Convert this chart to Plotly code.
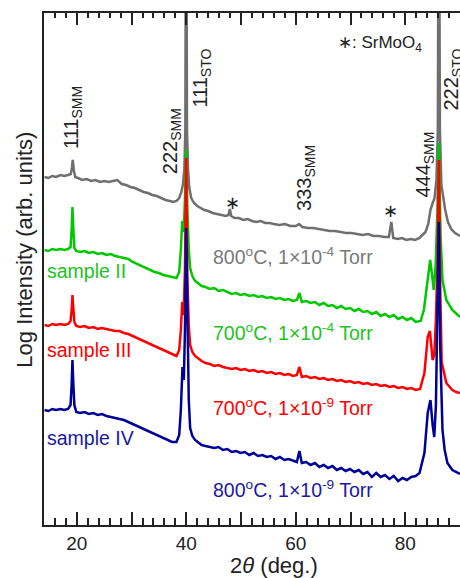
import plotly.graph_objects as go

# 2theta (deg.) and log intensity (arb. units, offset stacked)
gray_x = [14.1,14.8,15.5,16.2,17.0,17.7,18.4,18.9,19.1,19.25,19.45,19.7,20.2,21.0,21.8,22.6,23.4,24.2,25.0,25.8,26.6,27.4,28.2,29.0,29.8,30.6,31.4,32.2,33.0,33.8,34.6,35.4,36.2,37.0,37.6,38.2,38.7,39.1,39.4,39.65,39.82,39.97,40.12,40.3,40.55,40.9,41.4,42.0,42.6,43.3,44.0,44.8,45.6,46.4,47.2,47.7,47.95,48.2,48.8,49.6,50.4,51.2,52.0,52.8,53.6,54.4,55.2,56.0,57.0,58.0,59.0,60.0,60.6,61.2,62.2,63.2,64.2,65.2,66.2,67.2,68.2,69.2,70.2,71.2,72.2,73.2,74.2,75.2,76.2,77.0,77.45,77.8,78.6,79.4,80.2,81.0,81.8,82.6,83.2,83.7,84.2,84.6,84.95,85.35,85.7,85.95,86.13,86.33,86.6,86.9,87.3,87.8,88.4,89.1,90.0]
gray_y = [3.48,3.47,3.49,3.48,3.50,3.49,3.50,3.51,3.57,3.65,3.55,3.48,3.47,3.45,3.46,3.44,3.45,3.43,3.44,3.43,3.44,3.45,3.41,3.40,3.38,3.37,3.35,3.33,3.32,3.30,3.29,3.27,3.25,3.24,3.23,3.24,3.27,3.33,3.41,3.57,3.95,7.2,3.95,3.57,3.37,3.27,3.22,3.19,3.17,3.15,3.14,3.12,3.11,3.10,3.09,3.10,3.16,3.09,3.07,3.07,3.05,3.06,3.04,3.03,3.04,3.02,3.02,3.01,3.00,3.01,2.99,2.99,3.01,2.98,2.97,2.97,2.96,2.95,2.94,2.94,2.93,2.92,2.92,2.91,2.90,2.91,2.89,2.89,2.88,2.88,3.03,2.87,2.86,2.87,2.85,2.86,2.85,2.87,2.90,2.93,3.01,3.15,3.21,3.27,3.45,3.95,7.2,3.95,3.40,3.27,3.15,3.03,2.96,2.92,2.89]

green_x = [14.1,14.8,15.5,16.2,17.0,17.7,18.4,18.85,19.05,19.2,19.35,19.55,19.9,20.6,21.4,22.2,23.0,23.8,24.6,25.4,26.2,27.0,27.8,28.6,29.4,30.2,31.0,31.8,32.6,33.4,34.2,35.0,35.8,36.6,37.4,38.2,38.7,39.0,39.25,39.5,39.75,39.97,40.2,40.45,40.7,41.1,41.6,42.2,42.8,43.5,44.3,45.1,45.9,46.7,47.5,48.3,49.1,49.9,50.7,51.5,52.3,53.1,53.9,54.7,55.5,56.3,57.1,57.9,58.7,59.5,60.2,60.66,61.1,61.9,62.7,63.5,64.3,65.1,65.9,66.7,67.5,68.3,69.1,69.9,70.7,71.5,72.3,73.1,73.9,74.7,75.5,76.3,77.1,77.9,78.7,79.5,80.3,81.1,81.9,82.8,83.4,84.0,84.55,84.9,85.2,85.55,85.85,86.13,86.45,86.8,87.5,88.6,89.3,90.0]
green_y = [2.75,2.74,2.76,2.75,2.76,2.75,2.76,2.78,2.95,3.18,2.97,2.77,2.74,2.73,2.74,2.72,2.73,2.71,2.72,2.70,2.71,2.69,2.68,2.67,2.66,2.63,2.61,2.59,2.57,2.55,2.53,2.52,2.50,2.49,2.48,2.47,2.53,2.75,3.04,2.93,3.25,3.75,3.15,2.75,2.57,2.49,2.44,2.41,2.39,2.38,2.36,2.37,2.34,2.35,2.33,2.31,2.32,2.30,2.31,2.29,2.30,2.28,2.29,2.27,2.28,2.26,2.27,2.25,2.26,2.24,2.25,2.32,2.23,2.24,2.22,2.23,2.20,2.22,2.19,2.20,2.17,2.19,2.16,2.17,2.14,2.16,2.13,2.14,2.11,2.13,2.09,2.11,2.08,2.10,2.06,2.08,2.05,2.07,2.03,2.04,2.15,2.40,2.65,2.50,2.35,2.60,3.10,3.82,2.90,2.45,2.25,2.15,2.11,2.08]

red_x = [14.1,14.8,15.5,16.2,17.0,17.7,18.4,18.85,19.05,19.2,19.35,19.55,19.9,20.6,21.4,22.2,23.0,23.8,24.6,25.4,26.2,27.0,27.8,28.6,29.4,30.2,31.0,31.8,32.6,33.4,34.2,35.0,35.8,36.6,37.4,38.2,38.7,39.0,39.25,39.5,39.75,39.97,40.2,40.45,40.7,41.1,41.6,42.2,42.8,43.5,44.3,45.1,45.9,46.7,47.5,48.3,49.1,49.9,50.7,51.5,52.3,53.1,53.9,54.7,55.5,56.3,57.1,57.9,58.7,59.5,60.2,60.66,61.1,61.9,62.7,63.5,64.3,65.1,65.9,66.7,67.5,68.3,69.1,69.9,70.7,71.5,72.3,73.1,73.9,74.7,75.5,76.3,77.1,77.9,78.7,79.5,80.3,81.1,81.9,82.7,83.5,84.1,84.5,85.0,85.3,85.6,85.9,86.13,86.4,86.65,87.5,88.6,89.3,90.0]
red_y = [2.00,1.99,2.01,2.00,2.01,2.00,2.01,2.04,2.15,2.30,2.17,2.03,1.99,1.98,1.99,1.97,1.98,1.96,1.97,1.96,1.95,1.94,1.94,1.92,1.91,1.89,1.87,1.85,1.83,1.81,1.79,1.77,1.75,1.73,1.71,1.69,1.75,1.95,2.23,2.10,2.55,3.67,2.45,2.00,1.80,1.73,1.69,1.66,1.64,1.62,1.61,1.59,1.60,1.58,1.57,1.56,1.57,1.55,1.56,1.54,1.55,1.53,1.54,1.52,1.53,1.51,1.52,1.50,1.51,1.49,1.50,1.58,1.48,1.49,1.47,1.48,1.46,1.47,1.45,1.46,1.44,1.45,1.43,1.44,1.42,1.43,1.41,1.42,1.40,1.41,1.39,1.40,1.38,1.39,1.37,1.38,1.36,1.37,1.35,1.36,1.52,1.88,1.94,1.65,1.70,2.05,2.65,3.65,2.35,1.63,1.42,1.35,1.33,1.32]

blue_x = [14.1,14.8,15.5,16.2,17.0,17.7,18.4,18.85,19.05,19.2,19.35,19.55,19.9,20.6,21.4,22.2,23.0,23.8,24.6,25.4,26.2,27.0,27.8,28.6,29.4,30.2,31.0,31.8,32.6,33.4,34.2,35.0,35.8,36.6,37.4,38.2,38.7,39.0,39.3,39.55,39.75,39.97,40.2,40.45,40.7,41.1,41.6,42.2,42.8,43.5,44.3,45.1,45.9,46.7,47.5,48.3,49.1,49.9,50.7,51.5,52.3,53.1,53.9,54.7,55.5,56.3,57.1,57.9,58.7,59.5,60.2,60.66,61.1,61.9,62.7,63.5,64.3,65.1,65.9,66.7,67.5,68.3,69.1,69.9,70.7,71.5,72.3,73.1,73.9,74.7,75.5,76.3,77.1,77.9,78.7,79.5,80.3,81.1,81.9,82.6,83.5,84.1,84.6,85.0,85.3,85.6,85.9,86.13,86.4,86.8,87.2,87.7,88.6,89.3,90.0]
blue_y = [1.15,1.14,1.16,1.15,1.16,1.15,1.16,1.20,1.40,1.65,1.42,1.20,1.13,1.12,1.13,1.11,1.12,1.10,1.11,1.09,1.08,1.07,1.06,1.05,1.03,1.01,0.99,0.97,0.95,0.93,0.91,0.89,0.87,0.85,0.83,0.83,0.90,1.15,1.58,1.45,1.95,2.97,1.85,1.25,0.97,0.89,0.85,0.82,0.80,0.79,0.78,0.77,0.78,0.75,0.76,0.73,0.74,0.72,0.73,0.70,0.72,0.69,0.70,0.68,0.69,0.66,0.68,0.65,0.66,0.64,0.63,0.74,0.62,0.63,0.60,0.62,0.58,0.60,0.57,0.59,0.55,0.57,0.54,0.56,0.53,0.55,0.51,0.53,0.48,0.52,0.48,0.50,0.46,0.49,0.44,0.47,0.45,0.48,0.49,0.52,0.72,1.12,1.25,1.00,0.88,1.20,2.05,3.03,1.75,0.95,0.75,0.62,0.55,0.53,0.51]

sample_names = ["sample II", "sample III", "sample IV"]
conditions = ["800<sup>o</sup>C, 1×10<sup>-4</sup> Torr", "700<sup>o</sup>C, 1×10<sup>-4</sup> Torr",
              "700<sup>o</sup>C, 1×10<sup>-9</sup> Torr", "800<sup>o</sup>C, 1×10<sup>-9</sup> Torr"]
x_labeled_ticks = [20, 40, 60, 80]
x_long_ticks = [30, 50, 70]
x_top_ticks = [20, 30, 40, 50, 60, 70, 80]

FONT = "Arial, Liberation Sans, sans-serif"
C_GRAY, C_GREEN, C_RED, C_BLUE = "#6f6f6f", "#00c800", "#ff0000", "#000096"
INK = "#222222"

fig = go.Figure()
for xs, ys, c in [(gray_x, gray_y, C_GRAY), (green_x, green_y, C_GREEN),
                  (red_x, red_y, C_RED), (blue_x, blue_y, C_BLUE)]:
    fig.add_trace(go.Scatter(x=xs, y=ys, mode="lines", line=dict(color=c, width=2.5),
                             showlegend=False, hoverinfo="skip"))
# empty traces carrying the tick-only overlay axes
fig.add_trace(go.Scatter(x=[], y=[], xaxis="x2", showlegend=False, hoverinfo="skip"))
fig.add_trace(go.Scatter(x=[], y=[], xaxis="x3", showlegend=False, hoverinfo="skip"))

ann = []
def A(text, x, y, size=18, color=INK, angle=0, xa="center", ya="middle", xref="x", yref="y"):
    ann.append(dict(text=text, x=x, y=y, xref=xref, yref=yref, showarrow=False,
                    font=dict(family=FONT, size=size, color=color), textangle=angle,
                    xanchor=xa, yanchor=ya))

PK = 20
A("111<sub>SMM</sub>", 19.19, 4.075, size=PK, angle=-90)
A("222<sub>SMM</sub>", 37.24, 3.84, size=PK, angle=-90)
A("111<sub>STO</sub>", 42.70, 4.465, size=PK, angle=-90)
A("333<sub>SMM</sub>", 61.66, 3.47, size=PK, angle=-90)
A("444<sub>SMM</sub>", 83.35, 3.60, size=PK, angle=-90)
A("222<sub>STO</sub>", 88.45, 4.45, size=PK, angle=-90)
A("∗: SrMoO<sub>4</sub>", 75.34, 4.81, size=17)
A("∗", 48.35, 3.22)
A("∗", 77.33, 3.14)
LS = 19.5
A(sample_names[0], 14.18, 2.54, size=LS, color="#22c322", xa="left")
A(sample_names[1], 14.18, 1.75, size=LS, color=C_RED, xa="left")
A(sample_names[2], 14.18, 0.87, size=LS, color="#1a1aa0", xa="left")
A(conditions[0], 74.5, 2.695, size=LS, color="#7a7a7a", xa="right")
A(conditions[1], 74.5, 1.93, size=LS, color="#22c322", xa="right")
A(conditions[2], 74.5, 1.18, size=LS, color=C_RED, xa="right")
A(conditions[3], 74.5, 0.36, size=LS, color="#1a1aa0", xa="right")
A("2<i>θ</i> (deg.)", 0.553, -0.080, size=22, xref="paper", yref="paper")
A("Log Intensity (arb. units)", -0.049, 0.537, size=22, angle=-90, xref="paper", yref="paper")

TK = INK
base = dict(range=[14, 90], showline=True, linewidth=2, linecolor=INK,
            showgrid=False, zeroline=False, tickmode="array", ticks="inside", tickwidth=2,
            tickcolor=TK)
fig.update_layout(
    width=460, height=578,
    margin=dict(l=43.5, r=0, t=13, b=53),
    paper_bgcolor="white", plot_bgcolor="white",
    font=dict(family=FONT, color=INK),
    annotations=ann,
    xaxis=dict(**base, tickvals=x_labeled_ticks, ticklen=13,
               minor=dict(tickmode="linear", tick0=0, dtick=2, ticks="inside", ticklen=7,
                          tickwidth=2, tickcolor=TK),
               tickfont=dict(size=19, family=FONT, color=INK)),
    xaxis2=dict(**base, overlaying="x", side="bottom", anchor="y",
                tickvals=x_long_ticks, ticklen=13, showticklabels=False),
    xaxis3=dict(**base, overlaying="x", side="top", anchor="y",
                tickvals=x_top_ticks, ticklen=12, showticklabels=False,
                minor=dict(tickmode="linear", tick0=0, dtick=2, ticks="inside", ticklen=5,
                           tickwidth=2, tickcolor=TK)),
    yaxis=dict(range=[0, 5.12], showline=True, linewidth=2, linecolor=INK,
               showticklabels=False, ticks="", showgrid=False, zeroline=False),
)
fig.write_html("out.html", config={"displayModeBar": False},
               post_script="document.body.style.margin='0';document.body.style.overflow='hidden';")
